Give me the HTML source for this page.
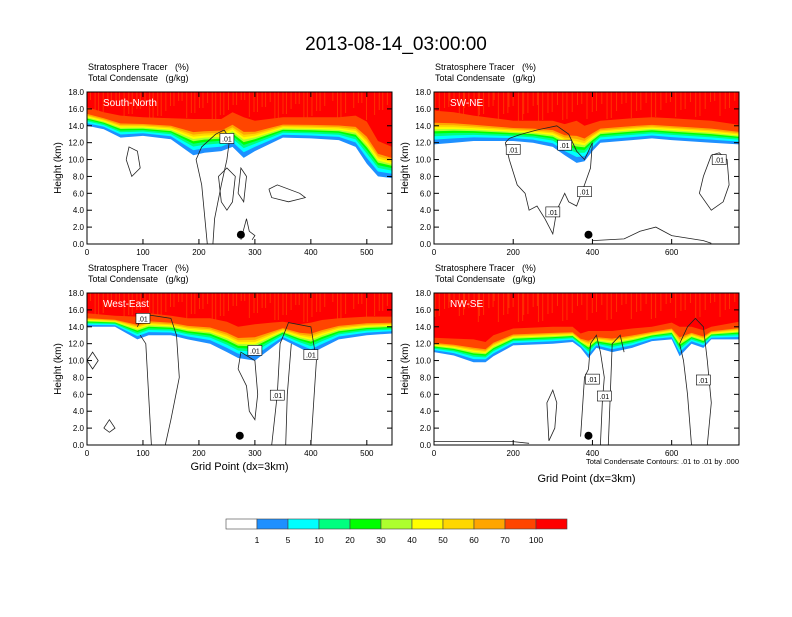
<!DOCTYPE html>
<html><head><meta charset="utf-8"><style>
body{margin:0;background:#fff;}
svg text{font-family:"Liberation Sans",sans-serif;white-space:pre;}
</style></head><body>
<svg id="c" width="792" height="612" viewBox="0 0 792 612" xmlns="http://www.w3.org/2000/svg">
<text x="396" y="50" font-size="19" text-anchor="middle">2013-08-14_03:00:00</text>
</svg>
<script>
// ---- data ----
const colorLevels = ["1","5","10","20","30","40","50","60","70","100"];
const colors = ["#ffffff","#1e90ff","#00ffff","#00ff7f","#00ff00","#adff2f","#ffff00","#ffd700","#ffa500","#ff4500","#ff0000"];
const bandFrac = [0,0.14,0.24,0.32,0.39,0.45,0.51,0.57,0.64,1.0];
const panelNames = ["South-North","SW-NE","West-East","NW-SE"];
const xMax = [545,770,545,770];
const yTickLabels = ["0.0","2.0","4.0","6.0","8.0","10.0","12.0","14.0","16.0","18.0"];
const xTicksLeft = [0,100,200,300,400,500];
const xTicksRight = [0,200,400,600];

const p1x = [0,30,60,100,150,190,210,240,260,280,300,350,400,450,480,500,520,545];
const p1base = [14.0,13.6,12.6,12.8,12.4,10.5,10.8,11.0,11.5,10.2,11.0,12.6,12.5,12.3,11.5,9.5,8.0,7.8];
const p1red = [16.2,15.6,15.2,15.0,14.9,14.8,14.8,14.8,15.6,15.0,14.6,15.0,15.0,15.0,15.2,14.5,12.2,11.5];
const p2x = [0,50,100,200,250,300,330,360,380,400,420,500,550,600,700,770];
const p2base = [11.8,12.0,12.2,12.2,12.0,11.5,10.5,9.6,9.8,11.0,12.0,12.3,12.5,12.3,12.0,11.8];
const p2red = [15.8,15.6,15.2,14.6,14.6,14.6,14.2,14.6,14.0,14.3,14.6,14.9,15.0,14.9,14.6,14.1];
const p3x = [0,50,90,110,150,180,220,250,270,300,330,350,380,400,420,450,500,545];
const p3base = [14.0,14.0,12.5,13.0,13.0,12.5,12.0,11.0,10.3,10.0,11.5,12.5,11.5,10.8,11.5,12.5,13.0,13.2];
const p3red = [15.6,15.3,15.2,15.6,15.3,15.0,15.0,14.6,14.0,14.3,14.5,14.6,14.3,14.5,14.8,15.0,15.2,15.2];
const p4x = [0,50,100,130,150,200,300,350,370,390,410,450,500,550,600,620,650,680,700,770];
const p4base = [11.0,10.6,9.8,9.8,10.5,11.8,12.0,12.2,11.5,10.3,11.5,11.0,11.5,12.3,12.5,10.5,12.0,11.5,12.5,12.5];
const p4red = [12.7,12.6,12.5,12.2,13.0,13.8,14.0,14.0,13.2,13.5,13.5,13.5,13.8,14.0,14.5,14.0,14.0,13.6,14.0,14.6];
const profX = [p1x,p2x,p3x,p4x];
const profBase = [p1base,p2base,p3base,p4base];
const profRed = [p1red,p2red,p3red,p4red];

// contours (grid point, km)
const cont1 = [
 [[215,0],[205,7],[195,10],[205,11.5],[230,13],[245,13.5],[255,12.5],[250,10],[240,7],[228,3],[225,0]],
 [[70,10],[75,11.5],[90,11],[95,9],[80,8],[70,10]],
 [[240,5],[235,8],[250,9],[265,8],[260,5],[250,4],[240,5]],
 [[270,6],[275,9],[285,8],[280,5],[270,6]],
 [[325,6.5],[340,7],[380,6],[390,5.5],[360,5],[330,5.5],[325,6.5]],
 [[275,0.5],[285,3],[290,1.5],[300,1],[295,0.5]]
];
const cont2 = [
 [[180,12],[190,10],[210,7],[230,6],[240,4],[260,4.5],[280,3],[300,1.2],[310,4],[330,6],[340,5],[360,4.5],[380,7],[395,9],[400,12],[380,10],[360,11],[340,13],[310,14],[260,13.5],[220,13],[190,12.5],[180,12]],
 [[700,10.5],[680,8],[670,6],[700,4],[730,5],[745,7],[740,10],[720,10.8],[700,10.5]],
 [[400,0.4],[480,0.6],[520,1.5],[560,2],[600,1],[680,0.4],[700,0.1]]
];
const cont3 = [
 [[90,14],[100,15.5],[150,15],[160,13],[165,8],[150,3],[140,0]],
 [[115,0],[110,6],[105,12],[95,13]],
 [[270,9],[275,11],[300,10],[305,6],[300,3],[290,4],[285,7],[270,9]],
 [[330,0],[340,6],[345,12],[360,14.5],[400,14],[410,10],[400,0]],
 [[355,0],[358,6],[365,12]],
 [[0,10],[10,11],[20,10],[10,9],[0,10]],
 [[30,2],[40,3],[50,2],[40,1.5],[30,2]]
];
const cont4 = [
 [[290,0.5],[285,5],[300,6.5],[310,5],[305,2],[290,0.5]],
 [[370,1],[380,8],[390,9],[395,12],[410,13],[420,11],[430,8],[425,5],[420,0]],
 [[440,0],[445,6],[450,12],[470,13],[480,11]],
 [[620,12],[640,14],[660,15],[680,14],[690,10],[700,5],[690,0]],
 [[650,0],[640,6],[630,10],[620,12]],
 [[0,0.4],[200,0.4],[240,0.2]]
];
const conts = [cont1,cont2,cont3,cont4];
const labels = [[[250,12.5]],[[200,11.2],[330,11.7],[380,6.2],[300,3.8],[720,10]],[[100,15],[300,11.2],[340,5.9],[400,10.7]],[[400,7.8],[430,5.8],[680,7.7]]];
const dots = [[275,1.1],[390,1.1],[273,1.1],[390,1.1]];

// ---- layout ----
const panels = [{x:87,y:92},{x:434,y:92},{x:87,y:293},{x:434,y:293}];
const PW=305, PH=152, YMAX=18;
const svg = document.getElementById('c');
const NS="http://www.w3.org/2000/svg";
function mk(tag, attrs, parent){const e=document.createElementNS(NS,tag);for(const k in attrs)e.setAttribute(k,attrs[k]);(parent||svg).appendChild(e);return e;}

panels.forEach((P,i)=>{
  const sx = v => P.x + v/xMax[i]*PW;
  const sy = v => P.y + PH - v/YMAX*PH;
  const g = mk('g',{});
  
  
  const defs = mk('clipPath',{id:'cl'+i},g);
  mk('rect',{x:P.x,y:P.y,width:PW,height:PH},defs);
  const pl = mk('g',{'clip-path':'url(#cl'+i+')'},g);
  const bg = mk('rect',{x:P.x,y:P.y,width:PW,height:PH,fill:colors[10]},pl);
  
  
  for(let s=0;s<70;s++){
    const xv = (s*37.3 % xMax[i]);
    mk('line',{x1:sx(xv),x2:sx(xv),y1:P.y,y2:P.y+8+(s*7%22),stroke:'#ff4500','stroke-width':1,opacity:0.7},pl);
  }
  const xs=profX[i], b=profBase[i], r=profRed[i];
  for(let k=9;k>=0;k--){
    let d='M'+sx(0)+','+sy(0);
    xs.forEach((x,j)=>{const h=b[j]+(r[j]-b[j])*bandFrac[k];d+=' L'+sx(x).toFixed(1)+','+sy(h).toFixed(1);});
    d+=' L'+sx(xMax[i])+','+sy(b[b.length-1]+(r[r.length-1]-b[b.length-1])*bandFrac[k])+' L'+sx(xMax[i])+','+sy(0)+' Z';
    const band = mk('path',{d:d,fill:colors[k],stroke:'none'},pl);
    
    
  }
  conts[i].forEach(c=>{
    const ln = mk('polyline',{points:c.map(p=>sx(p[0]).toFixed(1)+','+sy(p[1]).toFixed(1)).join(' '),fill:'none',stroke:'#222','stroke-width':0.8},pl);
    
    
  });
  labels[i].forEach(p=>{
    mk('rect',{x:sx(p[0])-7,y:sy(p[1])-5,width:14,height:10,fill:'#fff',stroke:'#000','stroke-width':0.6},pl);
    const t=mk('text',{x:sx(p[0]),y:sy(p[1])+3,'font-size':7,'text-anchor':'middle'},pl);t.textContent='.01';
    
    
  });
  const dt = mk('circle',{cx:sx(dots[i][0]),cy:sy(dots[i][1]),r:4,fill:'#000'},pl);
  
  
  mk('rect',{x:P.x,y:P.y,width:PW,height:PH,fill:'none',stroke:'#000','stroke-width':1},g);
  yTickLabels.forEach((lab,j)=>{
    const y=sy(j*2);
    mk('line',{x1:P.x,x2:P.x+5,y1:y,y2:y,stroke:'#000'},g);
    mk('line',{x1:P.x+PW,x2:P.x+PW-5,y1:y,y2:y,stroke:'#000'},g);
    const t=mk('text',{x:P.x-3,y:y+3,'font-size':8,'text-anchor':'end'},g);t.textContent=lab;
    
    
  });
  const xt = (i%2===0)?xTicksLeft:xTicksRight;
  xt.forEach(v=>{
    const x=sx(v);
    mk('line',{x1:x,x2:x,y1:P.y+PH,y2:P.y+PH-5,stroke:'#000'},g);
    mk('line',{x1:x,x2:x,y1:P.y,y2:P.y+5,stroke:'#000'},g);
    const t=mk('text',{x:x,y:P.y+PH+11,'font-size':8,'text-anchor':'middle'},g);t.textContent=v;
    
    
  });
  const yt=mk('text',{x:0,y:0,'font-size':10,'text-anchor':'middle',transform:'translate('+(P.x-26)+','+(P.y+PH/2)+') rotate(-90)'},g);yt.textContent='Height (km)';
  
  
  const h1=mk('text',{x:P.x+1,y:P.y-22,'font-size':9},g);h1.textContent='Stratosphere Tracer   (%)';
  
  
  const h2=mk('text',{x:P.x+1,y:P.y-11,'font-size':9},g);h2.textContent='Total Condensate   (g/kg)';
  
  
  const pn=mk('text',{x:P.x+16,y:P.y+14,'font-size':10,fill:'#fff'},g);pn.textContent=panelNames[i];
  
  
  if(i>=2){
    const xtt=mk('text',{x:P.x+PW/2,y:(i===2?470:482),'font-size':11,'text-anchor':'middle'},g);xtt.textContent='Grid Point (dx=3km)';
    
    
  }
  if(i===3){
    const cap=mk('text',{x:P.x+PW,y:464,'font-size':7.5,'text-anchor':'end'},g);cap.textContent='Total Condensate Contours: .01 to .01 by .000';
    
    
  }
});
const cb = mk('g',{});


const cbx=226, cbw=31, cby=519;
colors.forEach((c,k)=>{
  const rc=mk('rect',{x:cbx+k*cbw,y:cby,width:cbw,height:10,fill:c,stroke:'#444','stroke-width':0.6},cb);
  
  
});
colorLevels.forEach((l,k)=>{
  const t=mk('text',{x:cbx+(k+1)*cbw,y:cby+24,'font-size':8.5,'text-anchor':'middle'},cb);t.textContent=l;
  
  
});
</script>
</body></html>
